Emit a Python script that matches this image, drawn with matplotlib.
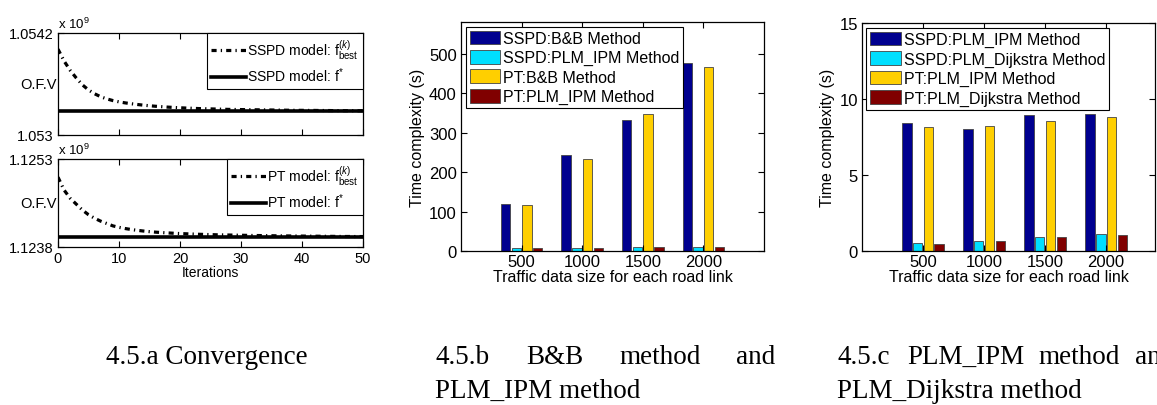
import matplotlib
matplotlib.use("Agg")
import matplotlib.pyplot as plt
import numpy as np

plt.rcParams['font.family'] = ['Liberation Sans', 'DejaVu Sans']
plt.rcParams['mathtext.fontset'] = 'custom'
plt.rcParams['mathtext.rm'] = 'Liberation Sans'
plt.rcParams['mathtext.it'] = 'Liberation Sans:italic'

# convergence of the subgradient iterations (values in units of 1e9)
iterations = list(range(51))
sspd_best = [1.05401, 1.05387, 1.05376, 1.05367, 1.05359, 1.05353, 1.053485, 1.05345,
             1.053425, 1.053405, 1.05339, 1.053378, 1.053368, 1.053359, 1.053351, 1.053344,
             1.053338, 1.053333, 1.053328, 1.053324, 1.05332, 1.053317, 1.053314, 1.053311,
             1.053309, 1.053307, 1.053305, 1.053303, 1.053301, 1.0533, 1.053299, 1.053298,
             1.053297, 1.053296, 1.053295, 1.053294, 1.053293, 1.053292, 1.053291, 1.05329,
             1.05329, 1.053289, 1.053289, 1.053288, 1.053288, 1.053287, 1.053287, 1.053286,
             1.053286, 1.053285, 1.053285]
sspd_opt = 1.05328
pt_best = [1.12499, 1.12477, 1.12463, 1.12453, 1.12443, 1.12435, 1.12429, 1.12424,
           1.1242, 1.12416, 1.124135, 1.124115, 1.124098, 1.124084, 1.124072, 1.124062,
           1.124053, 1.124046, 1.12404, 1.124034, 1.124029, 1.124025, 1.124021, 1.124017,
           1.124014, 1.124011, 1.124008, 1.124006, 1.124004, 1.124002, 1.124, 1.123998,
           1.123996, 1.123995, 1.123993, 1.123992, 1.12399, 1.123989, 1.123988, 1.123987,
           1.123986, 1.123985, 1.123984, 1.123983, 1.123982, 1.123981, 1.12398, 1.123979,
           1.123979, 1.123978, 1.123978]
pt_opt = 1.12397

# run times (s) per data size
sizes = ['500', '1000', '1500', '2000']
bb_sspd = [120, 242, 333, 477]
ipm_sspd = [8, 8, 9, 9]
bb_pt = [116, 232, 348, 467]
ipm_pt = [8, 8, 9, 9]
labels_b = ['SSPD:B&B Method', 'SSPD:PLM_IPM Method', 'PT:B&B Method', 'PT:PLM_IPM Method']

ipm2_sspd = [8.45, 8.05, 8.95, 9.0]
dij_sspd = [0.52, 0.66, 0.92, 1.12]
ipm2_pt = [8.15, 8.25, 8.55, 8.8]
dij_pt = [0.48, 0.68, 0.9, 1.07]
labels_c = ['SSPD:PLM_IPM Method', 'SSPD:PLM_Dijkstra Method', 'PT:PLM_IPM Method',
            'PT:PLM_Dijkstra Method']

colors = ['#00008F', '#00DFFF', '#FFCF00', '#800000']

W, H = 1157, 406
fig = plt.figure(figsize=(W / 100, H / 100), dpi=100)


def px_axes(l, t, r, b):
    return fig.add_axes([l / W, 1 - b / H, (r - l) / W, (b - t) / H])


def matlab_ticks(ax, size):
    ax.tick_params(direction='in', top=True, right=True, length=4, width=0.8,
                   labelsize=size, pad=3)
    for s in ax.spines.values():
        s.set_linewidth(0.9)


# --- 4.5.a convergence ---
conv = [
    (px_axes(58, 34, 363, 136), sspd_best, sspd_opt, 'SSPD', (1.053, 1.0542), ['1.053', '1.0542']),
    (px_axes(58, 160, 363, 248), pt_best, pt_opt, 'PT', (1.1238, 1.1253), ['1.1238', '1.1253']),
]
for i, (ax, best, opt, name, lim, ylabs) in enumerate(conv):
    ax.plot(iterations, best, color='black', lw=2.3,
            linestyle=(0, (1.6, 1.3, 0.4, 1.3)),
            label=name + r' model: $\mathrm{f}^{(k)}_{\mathrm{best}}$')
    ax.plot([0, 50], [opt, opt], color='black', lw=2.6,
            label=name + r' model: $\mathrm{f}^{*}$')
    ax.set_xlim(0, 50)
    ax.set_ylim(*lim)
    ax.set_yticks(lim, ylabs)
    ax.set_xticks(range(0, 51, 10))
    matlab_ticks(ax, 10.5)
    ax.text(-0.005, 0.5, 'O.F.V', transform=ax.transAxes, fontsize=10.5,
            ha='right', va='center')
    ax.text(0, 1.02, r'x 10$^{9}$', transform=ax.transAxes, fontsize=9.5, va='bottom')
    leg = ax.legend(loc='upper right', bbox_to_anchor=(1, 1), borderaxespad=0, fontsize=10,
                    fancybox=False, edgecolor='black', framealpha=1, handlelength=2.5,
                    handletextpad=0.1, labelspacing=0.35, borderpad=0.3)
    leg.get_frame().set_linewidth(0.8)
    if i == 0:
        ax.set_xticklabels([])
    else:
        ax.set_xlabel('Iterations', fontsize=10, labelpad=0)


# --- 4.5.b / 4.5.c run times ---
def bar_panel(ax, series, labels, ylim, yticks, xmax):
    x = np.arange(1, len(sizes) + 1)
    offsets = [-0.265, -0.088, 0.088, 0.265]
    for vals, off, col, lab in zip(series, offsets, colors, labels):
        ax.bar(x + off, vals, width=0.155, color=col, edgecolor='#444444',
               linewidth=0.6, label=lab)
    ax.set_xlim(0, xmax)
    ax.set_ylim(*ylim)
    ax.set_yticks(yticks)
    ax.set_xticks(x, sizes)
    matlab_ticks(ax, 12)
    ax.tick_params(axis='x', pad=2)
    ax.set_xlabel('Traffic data size for each road link', fontsize=11.5, labelpad=0)
    ax.set_ylabel('Time complexity (s)', fontsize=11.5, labelpad=3)
    leg = ax.legend(loc='upper left', bbox_to_anchor=(0.015, 0.98), borderaxespad=0,
                    fontsize=11.5, fancybox=False, edgecolor='black', framealpha=1,
                    handlelength=1.9, handleheight=0.95, handletextpad=0.2,
                    labelspacing=0.25, borderpad=0.25)
    leg.get_frame().set_linewidth(0.8)


ax_b = px_axes(461, 23, 764, 252)
bar_panel(ax_b, [bb_sspd, ipm_sspd, bb_pt, ipm_pt], labels_b, (0, 580),
          [0, 100, 200, 300, 400, 500], 5)

ax_c = px_axes(862, 24, 1155, 252)
bar_panel(ax_c, [ipm2_sspd, dij_sspd, ipm2_pt, dij_pt], labels_c, (0, 15),
          [0, 5, 10, 15], 4.8)

# captions
cap = dict(family='Liberation Serif', fontsize=19.5, va='baseline', ha='left')
y1 = 1 - 364 / H
y2 = 1 - 398 / H
fig.text(106 / W, y1, '4.5.a Convergence', **cap)
for xp, word in [(435, '4.5.b'), (526, 'B&B'), (619, 'method'), (736, 'and')]:
    fig.text(xp / W, y1, word, **cap)
fig.text(435 / W, y2, 'PLM_IPM method', **cap)
for xp, word in [(837, '4.5.c'), (907, 'PLM_IPM'), (1038, 'method'), (1135, 'and')]:
    fig.text(xp / W, y1, word, **cap)
fig.text(837 / W, y2, 'PLM_Dijkstra method', **cap)

fig.savefig('out.png', dpi=100)
